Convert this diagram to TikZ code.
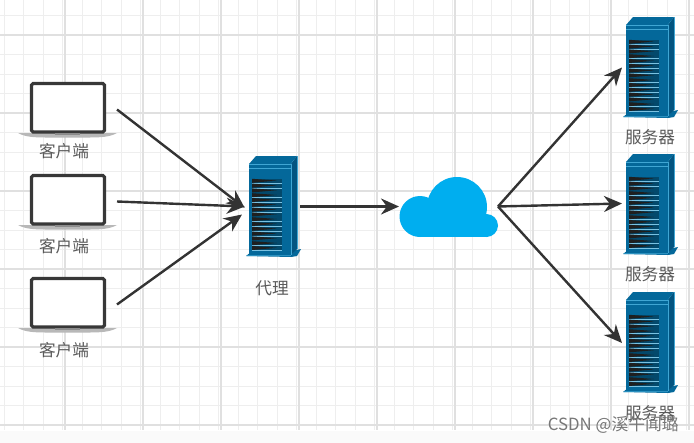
\documentclass[tikz,border=0pt]{standalone}
\usepackage{fontspec}
\setmainfont{Noto Sans CJK SC}
\usetikzlibrary{arrows.meta}
\definecolor{gridminor}{HTML}{EEEEEE}
\definecolor{gridmajor}{HTML}{E0E0E0}
\definecolor{srvbody}{HTML}{04689A}
\definecolor{srvdark}{HTML}{035480}
\definecolor{srvlight}{HTML}{3FA6D4}
\definecolor{srvvent}{HTML}{5F8AA0}
\definecolor{lineink}{HTML}{333333}
\definecolor{cloudblue}{HTML}{00AEEF}
\definecolor{labelink}{HTML}{5A5A5A}
\definecolor{markink}{HTML}{777777}
\tikzset{
  x=0.75pt,y=-0.75pt,
  conn/.style={draw=lineink,line width=1.8pt,-{Stealth[length=13.5pt,width=12pt]}},
  clienthull/.style={inner sep=0pt,outer sep=0pt,minimum width=74.25pt,minimum height=41.25pt},
  serverhull/.style={inner sep=0pt,outer sep=0pt,minimum width=40.5pt,minimum height=75.75pt},
  cloudhull/.style={inner sep=0pt,outer sep=0pt,minimum width=74.25pt,minimum height=45.75pt},
  lbl/.style={text=labelink,font=\fontsize{12.5pt}{14pt}\selectfont,inner sep=0pt},
  laptop/.pic={
    \fill[black!28] (-12,51) -- (87,51) .. controls (80,55) and (70,55.5) .. (60,55.5)
       -- (15,55.5) .. controls (5,55.5) and (-5,55) .. (-12,51) -- cycle;
    \draw[draw=black!78,line width=2.4pt,fill=white,rounded corners=1.2pt] (1.5,1.5) rectangle (74.5,50);
    \fill[black!45] (25,51) rectangle (50,52.5);
  },
  serverpic/.pic={
    % base
    \fill[srvbody] (-3,100) -- (2,96) -- (47,94) -- (52,93) -- (48,100) -- (42,101) -- cycle;
    \draw[srvlight,line width=.5pt] (-2,99.8) -- (41,99.8) -- (47,93);
    % top
    \fill[srvbody] (0,8) -- (7,0) -- (48,0) -- (42,8) -- cycle;
    \draw[srvlight,line width=.5pt] (42,8) -- (48,1);
    % side
    \fill[srvdark] (42,8) -- (48,0) -- (48,93) -- (42,99) -- cycle;
    \draw[srvlight,line width=.5pt] (48,0) -- (48,93);
    % front
    \fill[srvbody] (0,8) rectangle (42,99);
    \draw[srvlight,line width=.6pt] (0,12) -- (42,12);
    \draw[srvlight,line width=.5pt] (0,8) -- (42,8) -- (42,99);
    % vent
    \fill[srvvent] (3,23) rectangle (33,95);
    \foreach \r in {0,...,14}{
      \fill[srvbody!70!black] (3,23+4.8*\r) rectangle (33,27.8+4.8*\r);
      \draw[srvlight!70!white,line width=.35pt] (3,27.2+4.8*\r) -- (33,27.2+4.8*\r);
      \fill[black!88] (3,22.8+4.8*\r) -- (28,24.6+4.8*\r) -- (3,26.8+4.8*\r) -- cycle;
    }
  }
}
\begin{document}
\begin{tikzpicture}
\useasboundingbox (0,0) rectangle (694,443);
\fill[white] (0,0) rectangle (694,443);
\fill[black!2] (0,431) rectangle (694,443);
% grid
\foreach \i in {0,...,35}{
  \draw[gridminor,line width=.7pt] ({4+19.5*\i},0) -- ({4+19.5*\i},430);
}
\foreach \j in {0,...,21}{
  \draw[gridminor,line width=.7pt] (0,{15.5+19.5*\j}) -- (694,{15.5+19.5*\j});
}
\foreach \i in {0,...,8}{
  \draw[gridmajor,line width=.8pt] ({65+78*\i},0) -- ({65+78*\i},430);
}
\foreach \j in {0,...,5}{
  \draw[gridmajor,line width=.8pt] (0,{35+78*\j}) -- (694,{35+78*\j});
}
% icons
\pic at (30,82) {laptop};
\pic at (30,174) {laptop};
\pic at (30,277) {laptop};
\pic at (249,156) {serverpic};
\pic at (626,17) {serverpic};
\pic at (626,154) {serverpic};
\pic at (626,292) {serverpic};
% cloud
\fill[cloudblue] (457,207) circle[radius=30];
\fill[cloudblue] (420,216.5) circle[radius=20.5];
\fill[cloudblue] (486.5,225.5) circle[radius=11.5];
\fill[cloudblue] (420,215) rectangle (486.5,237);
% hulls
\node[clienthull] (c1) at (67.5,109.5) {};
\node[clienthull] (c2) at (67.5,201.5) {};
\node[clienthull] (c3) at (67.5,304.5) {};
\node[serverhull] (proxy) at (273,206.5) {};
\node[cloudhull] (cloud) at (448.5,206.5) {};
\node[serverhull] (s1) at (649,67.5) {};
\node[serverhull] (s2) at (649,203.5) {};
\node[serverhull] (s3) at (649,343) {};
% labels
\node[lbl] (lc1) at (64,151) {客户端};
\node[lbl] (lc2) at (64,246) {客户端};
\node[lbl] (lc3) at (64,350) {客户端};
\node[lbl] (lp) at (272,288) {代理};
\node[lbl] (ls1) at (650,137) {服务器};
\node[lbl] (ls2) at (650,274) {服务器};
\node[lbl] (ls3) at (650,413) {服务器};
\node[text=markink,font=\fontsize{12.6pt}{14pt}\selectfont,inner sep=0pt,anchor=east] (mark) at (679,425) {CSDN @溪午闻璐};
% connectors
\draw[conn] (c1.east) -- ([xshift=-1pt,yshift=-1pt]proxy.west);
\draw[conn] (c2.east) -- ([xshift=-1pt]proxy.west);
\draw[conn] (c3.east) -- ([xshift=-3pt,yshift=-6pt]proxy.west);
\draw[conn] (proxy.east) -- (cloud.west);
\draw[conn] (cloud.east) -- (s1.west);
\draw[conn] (cloud.east) -- (s2.west);
\draw[conn] (cloud.east) -- (s3.west);
\end{tikzpicture}
\end{document}
